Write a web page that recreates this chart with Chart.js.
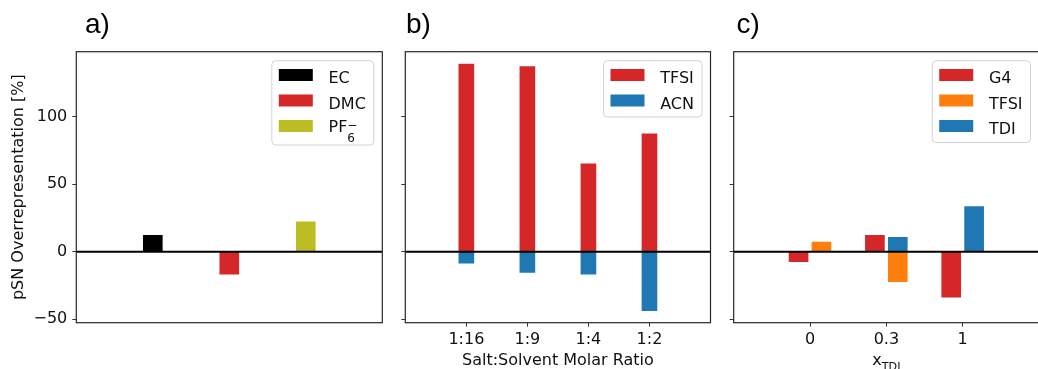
<!DOCTYPE html>
<html>
<head>
<meta charset="utf-8">
<script src="https://cdn.jsdelivr.net/npm/chart.js@4.4.1/dist/chart.umd.min.js"></script>
<style>
html, body { margin: 0; padding: 0; background: #fff; overflow: hidden; width: 1038px; height: 369px; }
canvas { position: absolute; top: 0; }
</style>
</head>
<body>
<canvas id="pa" style="left:0px" width="384" height="369"></canvas>
<canvas id="pb" style="left:384px" width="330" height="369"></canvas>
<canvas id="pc" style="left:714px" width="330" height="369"></canvas>
<script>
// y range is shared by the three panels
const yMin = -52.7
const yMax = 148.4
const yTicks = [-50, 0, 50, 100]

// a) solvents and anion
const aLabels = ['EC', 'DMC', 'PF₆⁻']
const aValues = [12.2, -16.6, 22.1]

// b) salt concentration
const bRatios = ['1:16', '1:9', '1:4', '1:2']
const bTFSI = [139.2, 137.4, 65.2, 87.4]
const bACN  = [-8.6, -15.3, -16.6, -43.8]

// c) TDI fraction
const cFractions = ['0', '0.3', '1']
const cG4   = [-7.4, 12.2, -33.7]
const cTFSI = [7.2, -22.3, null]
const cTDI  = [null, 10.7, 33.4]

const RED = '#d62728', BLUE = '#1f77b4', ORANGE = '#ff7f0e', OLIVE = '#bcbd22'
const aColors = ['#000000', RED, OLIVE]

Chart.defaults.font.family = "'DejaVu Sans', sans-serif"
Chart.defaults.font.size = 16
Chart.defaults.color = '#111'

function points(values, shift){
    let out = []
    values.forEach((v, i) => { if (v !== null) out.push({x: i + shift, y: v}) })
    return out
}

// split a label into plain / subscript / superscript pieces
const SUBS = '₀₁₂₃₄₅₆₇₈₉'
function pieces(text){
    let out = []
    for (const ch of text){
        let k = SUBS.indexOf(ch)
        if (k >= 0) out.push({t: String(k), kind: 'sub'})
        else if (ch === '⁻') out.push({t: '−', kind: 'sup'})
        else if (out.length && out[out.length-1].kind === 'txt') out[out.length-1].t += ch
        else out.push({t: ch, kind: 'txt'})
    }
    return out
}

function drawRich(ctx, text, x, y, measureOnly){
    let px = x, subStart = null, subEnd = x
    for (const p of pieces(text)){
        if (p.kind === 'txt'){
            ctx.font = "16px 'DejaVu Sans'"
            if (!measureOnly) ctx.fillText(p.t, px, y)
            px += ctx.measureText(p.t).width
        } else if (p.kind === 'sub'){
            ctx.font = "12px 'DejaVu Sans'"
            subStart = px
            if (!measureOnly) ctx.fillText(p.t, px, y + 10)
            px += ctx.measureText(p.t).width
            subEnd = px
        } else {
            ctx.font = "12px 'DejaVu Sans'"
            let sx = subStart !== null ? subStart : px
            if (!measureOnly) ctx.fillText(p.t, sx, y - 3)
            px = Math.max(subEnd, sx + ctx.measureText(p.t).width)
        }
    }
    return px - x
}

function roundBox(ctx, x, y, w, h, r){
    ctx.beginPath()
    ctx.moveTo(x + r, y)
    ctx.lineTo(x + w - r, y); ctx.arcTo(x + w, y, x + w, y + r, r)
    ctx.lineTo(x + w, y + h - r); ctx.arcTo(x + w, y + h, x + w - r, y + h, r)
    ctx.lineTo(x + r, y + h); ctx.arcTo(x, y + h, x, y + h - r, r)
    ctx.lineTo(x, y + r); ctx.arcTo(x, y, x + r, y, r)
    ctx.closePath()
}

const framePlugin = {
    id: 'frame',
    afterDatasetsDraw(chart){
        const {ctx, chartArea: a, scales} = chart
        const y0 = scales.y.getPixelForValue(0)
        ctx.save()
        ctx.strokeStyle = '#000'
        ctx.lineWidth = 2
        ctx.beginPath(); ctx.moveTo(a.left, y0); ctx.lineTo(a.right, y0); ctx.stroke()
        ctx.strokeStyle = '#262626'
        ctx.lineWidth = 1.2
        ctx.strokeRect(a.left, a.top, a.right - a.left, a.bottom - a.top)
        ctx.restore()
    },
    afterDraw(chart, args, opts){
        const {ctx, chartArea: a} = chart
        const ds = chart.data.datasets
        ctx.save()
        ctx.fillStyle = '#000'
        ctx.textBaseline = 'alphabetic'
        ctx.textAlign = 'left'

        // panel letter
        ctx.font = "28px 'Liberation Sans'"
        ctx.fillText(opts.letter, opts.letterX, 32.5)

        // legend in the upper right corner
        const hasSub = ds.some(d => pieces(d.label).some(p => p.kind !== 'txt'))
        let tw = Math.max(...ds.map(d => drawRich(ctx, d.label, 0, 0, true)))
        let w = 7 + 34 + 15.7 + tw + 8
        let h = 14.3 + (ds.length - 1) * 25.5 + 16.5 + (hasSub ? 2.5 : 0)
        let left = a.right - 8.5 - w, top = a.top + 9
        roundBox(ctx, left, top, w, h, 4)
        ctx.fillStyle = 'rgba(255,255,255,0.85)'
        ctx.fill()
        ctx.strokeStyle = '#d3d3d3'
        ctx.lineWidth = 1
        ctx.stroke()
        ds.forEach((d, i) => {
            let cy = top + 14.3 + i * 25.5
            ctx.fillStyle = d.backgroundColor
            ctx.fillRect(left + 7, cy - 6, 34, 12)
            ctx.fillStyle = '#111'
            let sub = pieces(d.label).some(p => p.kind !== 'txt')
            drawRich(ctx, d.label, left + 7 + 34 + 15.7, cy + (sub ? 6.3 : 8.3))
        })

        // x title with subscript
        if (opts.xSymbol){
            ctx.fillStyle = '#111'
            ctx.font = "16px 'DejaVu Sans'"
            let w1 = ctx.measureText(opts.xSymbol).width
            ctx.font = "11.2px 'DejaVu Sans'"
            let w2 = ctx.measureText(opts.xSub).width
            let x = (a.left + a.right) / 2 - (w1 + w2) / 2
            ctx.font = "16px 'DejaVu Sans'"
            ctx.fillText(opts.xSymbol, x, 365)
            ctx.font = "11.2px 'DejaVu Sans'"
            ctx.fillText(opts.xSub, x + w1, 369.7)
        }
        ctx.restore()
    }
}

function makePanel(id, datasets, cfg){
    return new Chart(document.getElementById(id), {
        type: 'bar',
        data: { datasets: datasets },
        options: {
            responsive: false,
            animation: false,
            events: [],
            layout: { padding: { left: 0, right: cfg.padRight, top: 51.7, bottom: 0 } },
            datasets: { bar: { grouped: false, barThickness: cfg.barWidth, borderWidth: 0 } },
            plugins: {
                legend: { display: false },
                tooltip: { enabled: false },
                frame: cfg.frame
            },
            scales: {
                x: {
                    type: 'linear',
                    min: -1,
                    max: cfg.xMax,
                    offset: false,
                    border: { display: false },
                    grid: { offset: false, drawOnChartArea: false, drawTicks: cfg.xLabels.length > 0,
                            tickLength: 4, tickColor: '#333' },
                    ticks: { display: cfg.xLabels.length > 0, padding: 4, autoSkip: false, maxRotation: 0,
                             callback: v => cfg.xLabels[v] },
                    afterBuildTicks: s => { s.ticks = cfg.xLabels.map((l, i) => ({value: i})) },
                    afterFit: s => { s.height = 46.3 },
                    title: { display: !!cfg.xTitle, text: cfg.xTitle || '', color: '#111',
                             font: { size: 16, lineHeight: 1 }, padding: { top: 0, bottom: 0.5 } }
                },
                y: {
                    min: yMin,
                    max: yMax,
                    border: { display: false },
                    grid: { drawOnChartArea: false, tickLength: 4, tickColor: '#333' },
                    ticks: { display: cfg.yLabels, padding: 5, callback: v => v < 0 ? '−' + Math.abs(v) : String(v) },
                    afterBuildTicks: s => { s.ticks = yTicks.map(v => ({value: v})) },
                    afterFit: s => { s.width = cfg.yWidth },
                    title: { display: !!cfg.yTitle, text: cfg.yTitle || '', color: '#111',
                             font: { size: 16, lineHeight: 1 }, padding: { top: 11, bottom: 0 } }
                }
            }
        },
        plugins: [framePlugin]
    })
}

makePanel('pa',
    aLabels.map((l, i) => ({ label: l, data: [{x: i, y: aValues[i]}], backgroundColor: aColors[i] })),
    { xMax: 3, xLabels: [], barWidth: 19, yWidth: 76.3, padRight: 1.7, yLabels: true,
      yTitle: 'pSN Overrepresentation [%]', frame: { letter: 'a)', letterX: 85 } })

makePanel('pb', [
        { label: 'TFSI', data: points(bTFSI, 0), backgroundColor: RED },
        { label: 'ACN',  data: points(bACN, 0),  backgroundColor: BLUE }
    ],
    { xMax: 4, xLabels: bRatios, barWidth: 15, yWidth: 21.3, padRight: 3.5, yLabels: false,
      xTitle: 'Salt:Solvent Molar Ratio', frame: { letter: 'b)', letterX: 22 } })

makePanel('pc', [
        { label: 'G4',   data: points(cG4, -0.15),  backgroundColor: RED },
        { label: 'TFSI', data: points(cTFSI, 0.15), backgroundColor: ORANGE },
        { label: 'TDI',  data: points(cTDI, 0.15),  backgroundColor: BLUE }
    ],
    { xMax: 3, xLabels: cFractions, barWidth: 19, yWidth: 19.7, padRight: 5, yLabels: false,
      frame: { letter: 'c)', letterX: 22.5, xSymbol: 'x', xSub: 'TDI' } })
</script>
</body>
</html>
